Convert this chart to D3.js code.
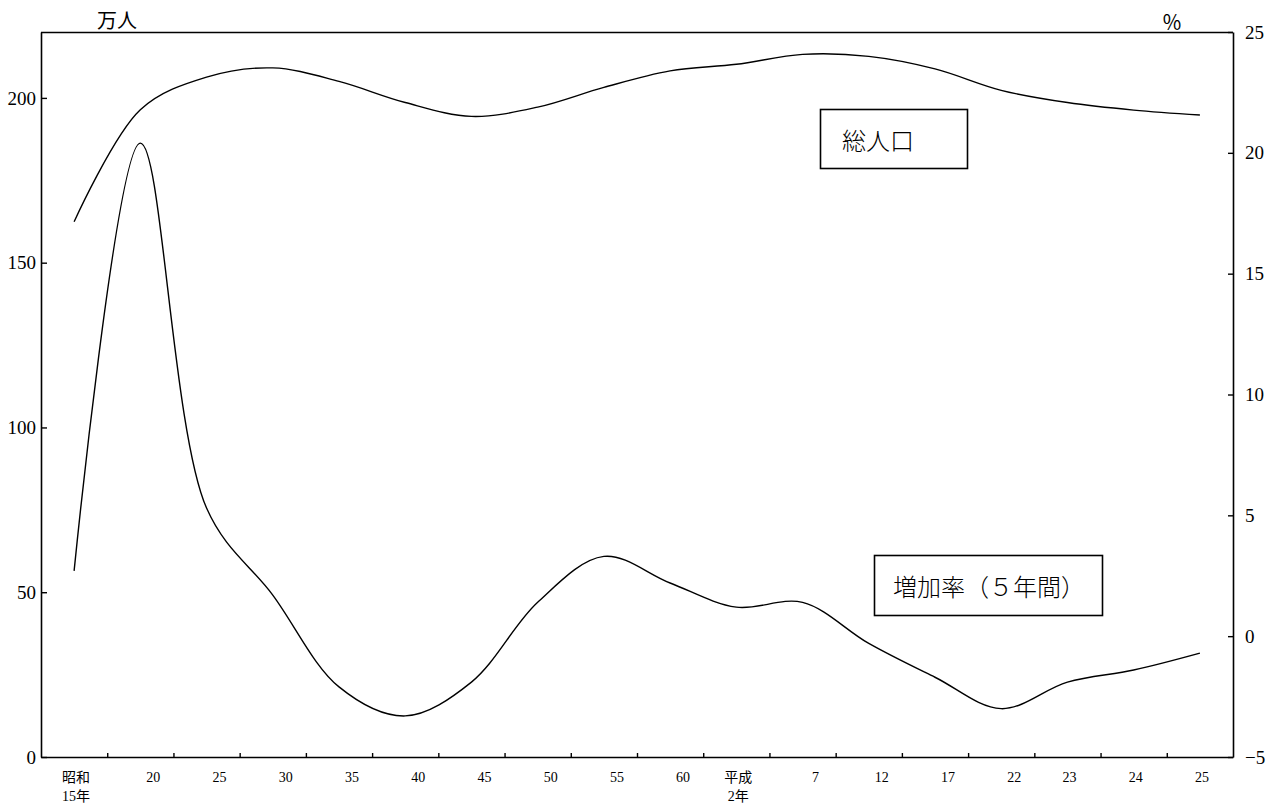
<!DOCTYPE html>
<html>
<head>
<meta charset="utf-8">
<script src="https://cdn.jsdelivr.net/npm/d3@7"></script>
<style>
  html, body { margin: 0; padding: 0; background: #fff; }
  svg { display: block; }
  .num { font-family: "Liberation Serif", "Noto Sans CJK JP", serif; fill: #000; }
  .jp { font-family: "Noto Sans CJK JP", sans-serif; fill: #000; }
</style>
</head>
<body>
<svg id="chart" width="1283" height="805"></svg>
<script>
// ---- data ----
const categories = [
  ["昭和", "15年"], ["20"], ["25"], ["30"], ["35"], ["40"], ["45"], ["50"], ["55"], ["60"],
  ["平成", "2年"], ["7"], ["12"], ["17"], ["22"], ["23"], ["24"], ["25"]
];
// 総人口 (万人), left axis
const totalPopulation = [162.4, 196.4, 206.3, 209.1, 205.0, 198.6, 194.4, 197.2, 203.2, 208.2,
                         210.2, 213.2, 212.6, 208.8, 202.3, 198.6, 196.3, 194.8];
// 増加率（5年間） (%), right axis
const growthRate = [2.7, 20.4, 5.3, 1.7, -2.1, -3.3, -1.9, 1.4, 3.3, 2.2,
                    1.2, 1.4, -0.3, -1.7, -3.0, -1.9, -1.4, -0.7];
const leftTicks = [0, 50, 100, 150, 200];
const rightTicks = [-5, 0, 5, 10, 15, 20, 25];
const leftUnit = "万人";
const rightUnit = "％";
const seriesNames = ["総人口", "増加率（５年間）"];

// ---- layout ----
const svg = d3.select("#chart");
const L = 41, R = 1233, T = 32, B = 757;

const x = d3.scaleBand().domain(d3.range(categories.length)).range([L, R]).paddingInner(0).paddingOuter(0);
const xc = i => x(i) + x.bandwidth() / 2;
const xEdge = d3.scaleLinear().domain([0, categories.length]).range([L, R]);
const yL = d3.scaleLinear().domain([0, 220]).range([B, T]);
const yR = d3.scaleLinear().domain([-5, 25]).range([B, T]);

// frame top line
svg.append("line").attr("x1", L).attr("x2", R).attr("y1", T + 0.5).attr("y2", T + 0.5)
  .attr("stroke", "#000").attr("stroke-width", 1.3);

// left axis (ticks inward)
const gL = svg.append("g").attr("transform", `translate(${L},0)`)
  .call(d3.axisLeft(yL).tickValues(leftTicks).tickSizeInner(-6).tickSizeOuter(0).tickPadding(5).tickFormat(d3.format("d")));
gL.selectAll("text").attr("class", "num").attr("font-size", 19).style("font-family", null);
gL.selectAll("path,line").attr("stroke", "#000").attr("stroke-width", 1.4);

// right axis (ticks inward)
const gR = svg.append("g").attr("transform", `translate(${R},0)`)
  .call(d3.axisRight(yR).tickValues(rightTicks).tickSizeInner(-5).tickSizeOuter(0).tickPadding(12).tickFormat(d3.format("d")));
gR.selectAll("text").attr("class", "num").attr("font-size", 19).style("font-family", null);
gR.selectAll("path,line").attr("stroke", "#000").attr("stroke-width", 1.4);

// bottom axis: ticks at band boundaries, inward
const gB = svg.append("g").attr("transform", `translate(0,${B})`)
  .call(d3.axisBottom(xEdge).tickValues(d3.range(1, categories.length)).tickSizeInner(-4).tickSizeOuter(0).tickFormat(""));
gB.selectAll("path,line").attr("stroke", "#000").attr("stroke-width", 1.4);
svg.selectAll(".domain").attr("stroke-width", 1.6);

// category labels
const labelShift = (d, i) => (d.length > 1 || i >= 15) ? 2 : 13;
const lab = svg.append("g").selectAll("text").data(categories).join("text")
  .attr("class", "num").attr("font-size", 14).attr("text-anchor", "middle")
  .attr("x", (d, i) => xc(i) + labelShift(d, i))
  .attr("y", 782);
lab.selectAll("tspan").data(d => d).join("tspan")
  .attr("x", function () { return d3.select(this.parentNode).attr("x"); })
  .attr("dy", (d, j) => j === 0 ? 0 : 19)
  .attr("font-size", 14)
  .text(d => d);

// unit labels
svg.append("text").attr("class", "jp").attr("font-size", 20).attr("x", 97).attr("y", 28).text(leftUnit);
svg.append("text").attr("class", "jp").attr("font-size", 20).attr("x", 1162).attr("y", 30).text(rightUnit);

// lines
const curve = d3.curveCatmullRom.alpha(0.5);
svg.append("path").datum(totalPopulation)
  .attr("fill", "none").attr("stroke", "#000").attr("stroke-width", 1.4)
  .attr("d", d3.line().x((d, i) => xc(i)).y(d => yL(d)).curve(curve));
svg.append("path").datum(growthRate)
  .attr("fill", "none").attr("stroke", "#000").attr("stroke-width", 1.4)
  .attr("d", d3.line().x((d, i) => xc(i)).y(d => yR(d)).curve(curve));

// label boxes
function box(x0, y0, w, h, text, tx) {
  svg.append("rect").attr("x", x0).attr("y", y0).attr("width", w).attr("height", h)
    .attr("fill", "#fff").attr("stroke", "#000").attr("stroke-width", 1.6);
  svg.append("text").attr("class", "jp").attr("font-size", 24).attr("font-weight", 300)
    .attr("x", tx).attr("y", y0 + h / 2).attr("dominant-baseline", "central").text(text);
}
box(820.5, 109.5, 147, 59, seriesNames[0], 842);
box(874.5, 555.5, 228, 60, seriesNames[1], 893);
</script>
</body>
</html>
